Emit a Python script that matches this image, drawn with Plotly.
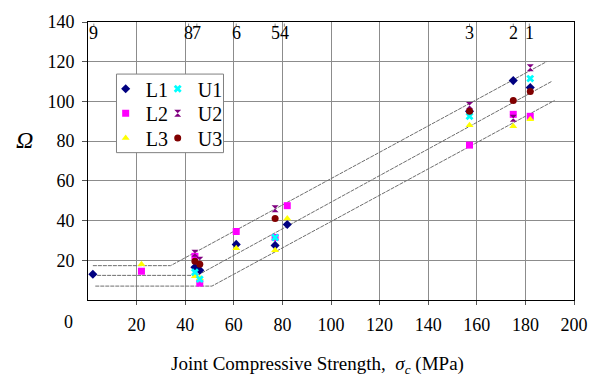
import plotly.graph_objects as go

# ---- data ----
L1_x = [2, 44, 46, 61, 77, 82, 157, 175, 182]
L1_y = [13, 16.5, 15, 28, 27.5, 38, 95, 110.5, 107]
L2_x = [22, 44, 46, 61, 77, 82, 157, 175, 182]
L2_y = [14.5, 22, 8.5, 34.5, 31.5, 47.5, 78, 93.5, 92.5]
L3_x = [22, 44, 46, 61, 77, 82, 157, 175, 182]
L3_y = [18, 12, 11, 26, 25, 41, 88, 87.5, 91]
U1_x = [44, 46, 77, 157, 182]
U1_y = [14, 10.5, 31.5, 92.5, 111.5]
U2_x = [44, 46, 77, 157, 175, 182]
U2_y = [23.5, 20, 46, 98, 91.5, 117]
U3_x = [44, 46, 77, 157, 175, 182]
U3_y = [19.5, 18, 41, 95, 100.5, 105]

# envelope lines
upper_x = [2, 34, 188.7]
upper_y = [17.3, 17.3, 120]
middle_x = [1.7, 45, 190.7]
middle_y = [12.4, 12.4, 110]
lower_x = [3, 51, 192]
lower_y = [7, 7, 100.5]

# sample number labels along the top
sample_labels = ["9", "8", "7", "6", "5", "4", "3", "2", "1"]
sample_label_x = [2.4, 41.4, 44.8, 61, 77, 80.8, 157, 175, 181.6]

x_ticks = [20, 40, 60, 80, 100, 120, 140, 160, 180, 200]
y_ticks = [20, 40, 60, 80, 100, 120, 140]

SERIF = "Liberation Serif, Times New Roman, DejaVu Serif, serif"

fig = go.Figure()

for lx, ly in [(upper_x, upper_y), (middle_x, middle_y), (lower_x, lower_y)]:
    fig.add_trace(go.Scatter(x=lx, y=ly, mode="lines", showlegend=False,
                             line=dict(color="#6e6e6e", width=1, dash="4px,1px"),
                             hoverinfo="skip"))

series = [
    ("L1", L1_x, L1_y, "diamond", "#000080"),
    ("L2", L2_x, L2_y, "square", "#ff00ff"),
    ("L3", L3_x, L3_y, "triangle-up", "#ffff00"),
    ("U1", U1_x, U1_y, "x", "#00ffff"),
    ("U2", U2_x, U2_y, "hourglass", "#800080"),
    ("U3", U3_x, U3_y, "circle", "#800000"),
]
legend_names = ["legend", "legend2", "legend3", "legend4", "legend5", "legend6"]
for (name, sx, sy, sym, col), lg in zip(series, legend_names):
    fig.add_trace(go.Scatter(x=sx, y=sy, mode="markers", name=name, legend=lg,
                             marker=dict(symbol=sym, color=col, size=7,
                                         line=dict(width=0))))

for lab, lx in zip(sample_labels, sample_label_x):
    fig.add_annotation(x=lx, y=134.3, text=lab, showarrow=False, xref="x", yref="y",
                       xanchor="center", yanchor="middle",
                       font=dict(family=SERIF, size=18, color="black"))
    fig.add_shape(type="line", x0=lx, x1=lx, y0=137.6, y1=139.2, xref="x", yref="y",
                  line=dict(color="#888888", width=1))

# legend box
fig.add_shape(type="rect", xref="paper", yref="paper",
              x0=(117 - 88) / 495, x1=(226 - 88) / 495,
              y0=(300 - 150) / 283, y1=(300 - 70) / 283,
              fillcolor="white", line=dict(color="#808080", width=1), layer="above")

# one legend per entry, placed in a 2-column grid (px positions)
leg_left_px = [106, 106, 106, 159, 159, 159]
leg_row_px = [85, 110, 135, 85, 110, 135]
legend_layout = {}
for lg, lpx, rpx in zip(legend_names, leg_left_px, leg_row_px):
    legend_layout[lg] = dict(x=(lpx - 88) / 495, y=(300 - rpx) / 283,
                             xanchor="left", yanchor="middle",
                             bgcolor="rgba(0,0,0,0)", borderwidth=0,
                             font=dict(family=SERIF, size=20), itemwidth=30)

fig.update_layout(
    width=600, height=386,
    margin=dict(l=88, r=17, t=17, b=86),
    paper_bgcolor="white", plot_bgcolor="white",
    font=dict(family=SERIF, size=18, color="black"),
    xaxis=dict(range=[0, 200], tickvals=x_ticks, ticks="outside", ticklen=4,
               tickcolor="#555", showline=True, linecolor="black", linewidth=1, mirror=True,
               showgrid=True, gridcolor="#8c8c8c", gridwidth=1, zeroline=False,
               tickfont=dict(family=SERIF, size=18), ticklabelstandoff=4),
    yaxis=dict(range=[0, 140], tickvals=y_ticks, ticks="outside", ticklen=5,
               tickcolor="#555", showline=True, linecolor="black", linewidth=1, mirror=True,
               showgrid=True, gridcolor="#8c8c8c", gridwidth=1, zeroline=False,
               tickfont=dict(family=SERIF, size=18), ticklabelstandoff=4),
    **legend_layout,
)

fig.add_annotation(xref="paper", yref="paper", x=(68 - 88) / 495, y=(300 - 322) / 283,
                   xanchor="center", yanchor="middle",
                   text="0", showarrow=False, font=dict(family=SERIF, size=18))
fig.add_annotation(xref="paper", yref="paper", x=(23 - 88) / 495, y=(300 - 137) / 283,
                   xanchor="center", yanchor="middle",
                   text="<i>Ω</i>", showarrow=False, font=dict(family=SERIF, size=24))
fig.add_annotation(xref="paper", yref="paper", x=(322 - 88) / 495, y=(300 - 366) / 283,
                   xanchor="center", yanchor="middle",
                   text="Joint Compressive Strength,  <i>σ</i><sub><i>c</i></sub> (MPa)",
                   showarrow=False, font=dict(family=SERIF, size=19))

fig.write_html("out.html")
